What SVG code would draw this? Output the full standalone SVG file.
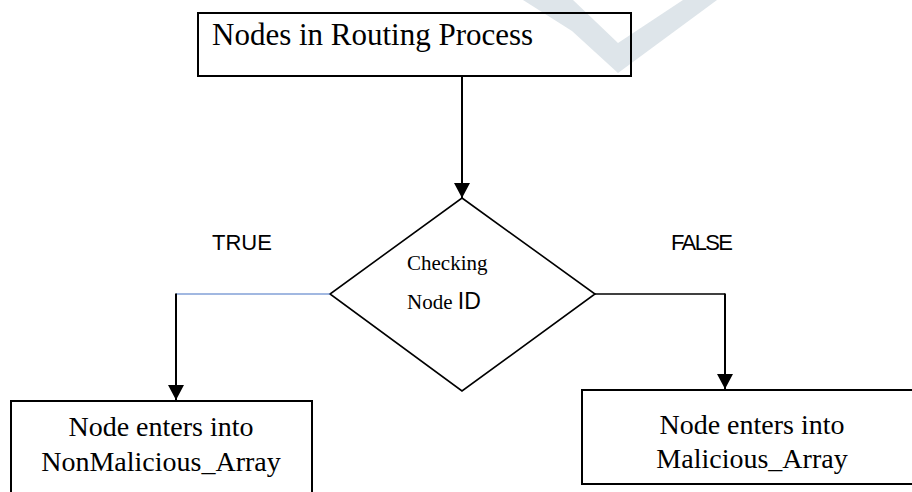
<svg xmlns="http://www.w3.org/2000/svg" width="912" height="492" viewBox="0 0 912 492">
  <style>
    .box { fill: none; stroke: #000; stroke-width: 2; }
    .serif { font-family: "Liberation Serif", "Times New Roman", serif; fill: #000; }
    .sans { font-family: "Liberation Sans", Arial, sans-serif; fill: #000; }
    .wire { fill: none; stroke: #000; stroke-width: 2; }
  </style>
  <defs>
    <marker id="arrow" markerUnits="userSpaceOnUse" markerWidth="16" markerHeight="17" refX="15" refY="8" orient="auto">
      <path d="M0,0 L15,8 L0,16 Z" fill="#000"/>
    </marker>
  </defs>
  <rect width="912" height="492" fill="#fff"/>

  <!-- faint check mark mark in the background -->
  <path d="M523,0 L573,0 L618,43 L683,0 L717,0 L618,73 L572,31 Z" fill="#dee5ea"/>

  <g id="start">
    <rect class="box" x="198" y="13" width="433" height="63"/>
    <text class="serif" x="212" y="45" font-size="31">Nodes in Routing Process</text>
  </g>

  <g id="check">
    <polygon points="462,198 595,294 462,391 330,294" fill="none" stroke="#000" stroke-width="1.6"/>
    <text class="serif" x="407" y="270" font-size="21">Checking</text>
    <text class="serif" x="407" y="309" font-size="21">Node <tspan class="sans" font-size="23">ID</tspan></text>
  </g>

  <g id="non-malicious">
    <rect class="box" x="11" y="401" width="301" height="110"/>
    <text class="serif" x="161" y="436" font-size="28" text-anchor="middle">Node enters into</text>
    <text class="serif" x="161" y="471" font-size="28" text-anchor="middle">NonMalicious_Array</text>
  </g>

  <g id="malicious">
    <rect class="box" x="582" y="390" width="340" height="94"/>
    <text class="serif" x="752" y="434" font-size="28" text-anchor="middle">Node enters into</text>
    <text class="serif" x="752" y="468" font-size="28" text-anchor="middle">Malicious_Array</text>
  </g>

  <g id="labels">
    <text class="sans" x="212" y="250" font-size="22">TRUE</text>
    <text class="sans" x="671" y="250" font-size="22" textLength="62">FALSE</text>
  </g>

  <g id="connectors">
    <line class="wire" x1="462" y1="76" x2="462" y2="198" marker-end="url(#arrow)"/>
    <line x1="330" y1="294" x2="176" y2="294" stroke="#4472c4" stroke-width="1.2"/>
    <line class="wire" x1="176" y1="293.5" x2="176" y2="400" marker-end="url(#arrow)"/>
    <line x1="595" y1="294" x2="725" y2="294" stroke="#000" stroke-width="1.5"/>
    <line class="wire" x1="725" y1="293.5" x2="725" y2="389" marker-end="url(#arrow)"/>
  </g>
</svg>
